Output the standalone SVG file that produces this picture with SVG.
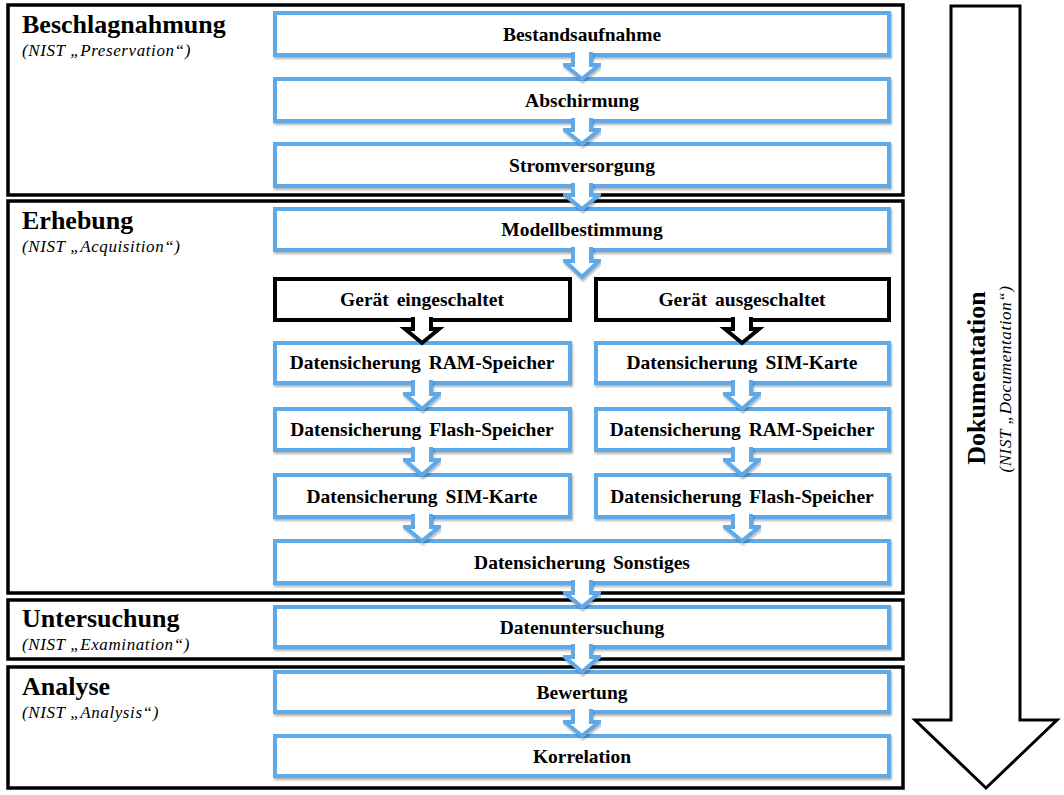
<svg xmlns="http://www.w3.org/2000/svg" width="1064" height="795" viewBox="0 0 1064 795">
<defs>
<filter id="sh" x="-5%" y="-20%" width="110%" height="150%">
<feDropShadow dx="1" dy="2" stdDeviation="1.2" flood-color="#000" flood-opacity="0.3"/>
</filter>
</defs>
<style>
.phase{fill:none;stroke:#000;stroke-width:3.5}
.box{fill:#fff;stroke:#5fa9e9;stroke-width:4;filter:url(#sh)}
.bbox{fill:#fff;stroke:#000;stroke-width:4}
.t{font-family:"Liberation Serif","Times New Roman",serif;font-weight:bold;font-size:19.5px;text-anchor:middle;fill:#000;word-spacing:3px}
.h{font-family:"Liberation Serif","Times New Roman",serif;font-weight:bold;font-size:26px;fill:#000}
.n{font-family:"Liberation Serif","Times New Roman",serif;font-style:italic;font-size:17px;letter-spacing:0.6px;fill:#000}
.ba{fill:#fff;stroke:#5fa9e9;stroke-width:4;stroke-linejoin:miter;filter:url(#sh)}
.ka{fill:#fff;stroke:#000;stroke-width:4;stroke-linejoin:miter}
.doc{fill:#fff;stroke:#000;stroke-width:3}
</style>
<rect width="1064" height="795" fill="#fff"/>

<g id="phase-beschlagnahmung">
<rect class="phase" x="8" y="5" width="895" height="190"/>
<text class="h" x="22" y="33">Beschlagnahmung</text>
<text class="n" x="22" y="56">(NIST „Preservation“)</text>
</g>
<g id="phase-erhebung">
<rect class="phase" x="8" y="201" width="895" height="392"/>
<text class="h" x="22" y="229">Erhebung</text>
<text class="n" x="22" y="252">(NIST „Acquisition“)</text>
</g>
<g id="phase-untersuchung">
<rect class="phase" x="8" y="600" width="895" height="59"/>
<text class="h" x="22" y="627">Untersuchung</text>
<text class="n" x="22" y="650">(NIST „Examination“)</text>
</g>
<g id="phase-analyse">
<rect class="phase" x="8" y="667" width="895" height="121"/>
<text class="h" x="22" y="695">Analyse</text>
<text class="n" x="22" y="718">(NIST „Analysis“)</text>
</g>

<g id="dokumentation">
<path class="doc" d="M951,6 L1020,6 L1020,720 L1057,720 L986,788 L915,720 L951,720 Z"/>
<text class="h" text-anchor="middle" transform="translate(985,378) rotate(-90)">Dokumentation</text>
<text class="n" text-anchor="middle" transform="translate(1011,379) rotate(-90)">(NIST „Documentation“)</text>
</g>

<g id="bestandsaufnahme"><rect class="box" x="275" y="13" width="614" height="42"/><text class="t" x="582" y="41">Bestandsaufnahme</text></g>
<g id="abschirmung"><rect class="box" x="275" y="79" width="614" height="42"/><text class="t" x="582" y="107">Abschirmung</text></g>
<g id="stromversorgung"><rect class="box" x="275" y="144" width="614" height="42"/><text class="t" x="582" y="172">Stromversorgung</text></g>
<g id="modellbestimmung"><rect class="box" x="275" y="209" width="614" height="41"/><text class="t" x="582" y="236">Modellbestimmung</text></g>
<g id="geraet-ein"><rect class="bbox" x="275" y="279" width="295" height="41"/><text class="t" x="422" y="306">Gerät eingeschaltet</text></g>
<g id="geraet-aus"><rect class="bbox" x="596" y="279" width="293" height="41"/><text class="t" x="742" y="306">Gerät ausgeschaltet</text></g>
<g id="l-ram"><rect class="box" x="275" y="343" width="295" height="40"/><text class="t" x="422" y="369">Datensicherung RAM-Speicher</text></g>
<g id="l-flash"><rect class="box" x="275" y="409" width="295" height="41"/><text class="t" x="422" y="436">Datensicherung Flash-Speicher</text></g>
<g id="l-sim"><rect class="box" x="275" y="475" width="295" height="42"/><text class="t" x="422" y="503">Datensicherung SIM-Karte</text></g>
<g id="r-sim"><rect class="box" x="596" y="343" width="293" height="40"/><text class="t" x="742" y="369">Datensicherung SIM-Karte</text></g>
<g id="r-ram"><rect class="box" x="596" y="409" width="293" height="41"/><text class="t" x="742" y="436">Datensicherung RAM-Speicher</text></g>
<g id="r-flash"><rect class="box" x="596" y="475" width="293" height="42"/><text class="t" x="742" y="503">Datensicherung Flash-Speicher</text></g>
<g id="sonstiges"><rect class="box" x="275" y="541" width="614" height="42"/><text class="t" x="582" y="569">Datensicherung Sonstiges</text></g>
<g id="datenuntersuchung"><rect class="box" x="275" y="607" width="614" height="40"/><text class="t" x="582" y="634">Datenuntersuchung</text></g>
<g id="bewertung"><rect class="box" x="275" y="672" width="614" height="40"/><text class="t" x="582" y="699">Bewertung</text></g>
<g id="korrelation"><rect class="box" x="275" y="736" width="614" height="40"/><text class="t" x="582" y="763">Korrelation</text></g>

<g id="connectors">
<path class="ba" d="M573,52 L573,65 L565,65 L582,79 L599,65 L591,65 L591,52"/>
<path class="ba" d="M573,118 L573,130 L565,130 L582,144 L599,130 L591,130 L591,118"/>
<path class="ba" d="M573,183 L573,195 L565,195 L582,209 L599,195 L591,195 L591,183"/>
<path class="ba" d="M573,247 L573,261 L565,261 L582,277 L599,261 L591,261 L591,247"/>
<path class="ka" d="M413,317 L413,329 L405,329 L422,343 L439,329 L431,329 L431,317"/>
<path class="ka" d="M733,317 L733,329 L725,329 L742,343 L759,329 L751,329 L751,317"/>
<path class="ba" d="M413,380 L413,394 L405,394 L422,409 L439,394 L431,394 L431,380"/>
<path class="ba" d="M413,447 L413,460 L405,460 L422,475 L439,460 L431,460 L431,447"/>
<path class="ba" d="M413,514 L413,527 L405,527 L422,541 L439,527 L431,527 L431,514"/>
<path class="ba" d="M733,380 L733,394 L725,394 L742,409 L759,394 L751,394 L751,380"/>
<path class="ba" d="M733,447 L733,460 L725,460 L742,475 L759,460 L751,460 L751,447"/>
<path class="ba" d="M733,514 L733,527 L725,527 L742,541 L759,527 L751,527 L751,514"/>
<path class="ba" d="M573,580 L573,593 L565,593 L582,607 L599,593 L591,593 L591,580"/>
<path class="ba" d="M573,644 L573,657 L565,657 L582,672 L599,657 L591,657 L591,644"/>
<path class="ba" d="M573,709 L573,722 L565,722 L582,736 L599,722 L591,722 L591,709"/>
</g>
</svg>
